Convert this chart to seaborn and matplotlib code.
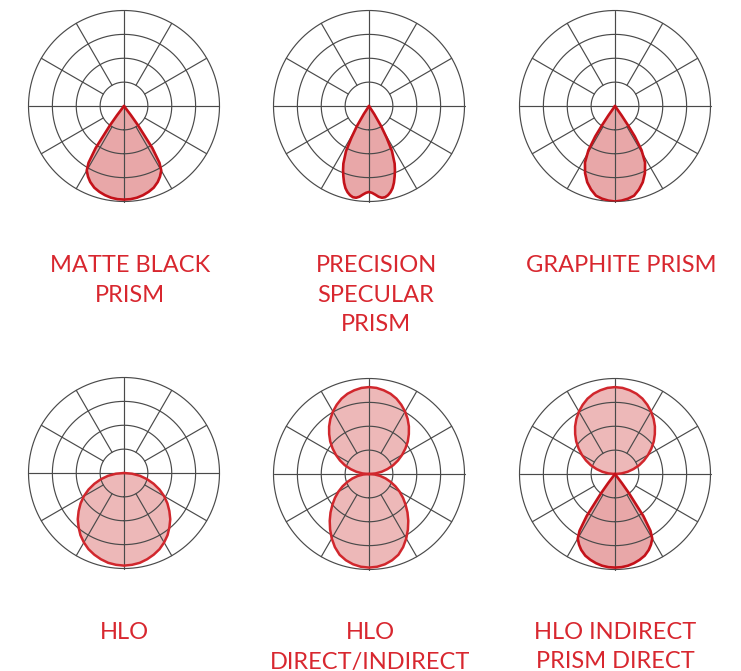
"""
Photometric polar distributions for six fixture optics, redrawn with seaborn.
"""

import numpy as np
import matplotlib
matplotlib.use('Agg')
import matplotlib.pyplot as plt
import seaborn as sns

# -------------------------------
# 1. Data (half profiles, degrees from nadir / zenith, relative intensity)
# -------------------------------
matte_angles = [0, 4, 8, 12, 16, 20, 24, 27, 30, 32, 34, 36, 37, 38]
matte_vals = [0.98, 0.978, 0.97, 0.955, 0.935, 0.91, 0.87, 0.83, 0.78, 0.70, 0.53, 0.25, 0.12, 0.0]

precision_angles = [0, 2, 4, 6, 8, 10, 12, 14, 16, 18, 20, 22, 24, 27, 29, 31, 33, 34]
precision_vals = [0.90, 0.91, 0.93, 0.955, 0.97, 0.97, 0.955, 0.93, 0.895, 0.845, 0.785, 0.725, 0.66,
                  0.53, 0.38, 0.25, 0.10, 0.0]

graphite_angles = [0, 4, 8, 12, 16, 20, 24, 28, 31, 33, 34, 35, 36]
graphite_vals = [1.0, 0.993, 0.98, 0.96, 0.91, 0.85, 0.77, 0.67, 0.54, 0.38, 0.24, 0.12, 0.0]

hlo_angles = [0, 5, 10, 15, 20, 25, 30, 35, 40, 45, 50, 55, 60, 65, 70, 75, 80, 85, 90]
hlo_vals = [0.97, 0.965, 0.955, 0.935, 0.91, 0.88, 0.84, 0.795, 0.74, 0.685, 0.62, 0.555,
            0.485, 0.41, 0.33, 0.25, 0.17, 0.085, 0.0]

hlo_down_angles = [0, 5, 10, 15, 20, 25, 30, 35, 40, 45, 50, 55, 60, 65, 70, 75, 80, 85, 90]
hlo_down_vals = [0.98, 0.975, 0.96, 0.935, 0.90, 0.845, 0.78, 0.71, 0.64, 0.57, 0.50, 0.435,
                 0.37, 0.305, 0.24, 0.18, 0.12, 0.06, 0.0]

hlo_up_angles = [0, 5, 10, 15, 20, 25, 30, 35, 40, 45, 50, 55, 60, 65, 70, 75, 80, 85, 90]
hlo_up_vals = [0.91, 0.905, 0.89, 0.87, 0.84, 0.80, 0.755, 0.705, 0.65, 0.59, 0.53, 0.465,
               0.40, 0.335, 0.27, 0.20, 0.135, 0.068, 0.0]

labels = [
    ['MATTE BLACK', 'PRISM'],
    ['PRECISION', 'SPECULAR', 'PRISM'],
    ['GRAPHITE PRISM'],
    ['HLO'],
    ['HLO', 'DIRECT/INDIRECT'],
    ['HLO INDIRECT', 'PRISM DIRECT'],
]

# each panel: list of (angles, values, direction) lobes
panels = [
    [(matte_angles, matte_vals, 'down')],
    [(precision_angles, precision_vals, 'down')],
    [(graphite_angles, graphite_vals, 'down')],
    [(hlo_angles, hlo_vals, 'down')],
    [(hlo_up_angles, hlo_up_vals, 'up'), (hlo_down_angles, hlo_down_vals, 'down')],
    [(hlo_up_angles, hlo_up_vals, 'up'), (matte_angles, matte_vals, 'down')],
]

# -------------------------------
# 2. Layout / style
# -------------------------------
W, H = 741, 671
R = 95.5
centers = [(124, 106), (369, 106), (615, 106), (124, 473), (369, 474), (615, 474)]
label_x = [130, 376, 621, 124, 370, 615]
label_base = [272, 272, 272, 639, 639, 639]
line_step = 29.5

RED_TEXT = '#d8272f'
GRID = '#4a4a4a'
prism_style = dict(fill='#e8a7a8', edge='#c4121a', lw=1.9)
hlo_style = dict(fill='#edb8b8', edge='#d1272d', lw=1.8)

sns.set_theme(style='white')
plt.rcParams['font.family'] = ['Lato', 'DejaVu Sans']

fig = plt.figure(figsize=(W / 100, H / 100), dpi=100)


def full_profile(angles, vals, direction):
    a = np.radians(np.array(angles, dtype=float))
    v = np.array(vals, dtype=float)
    theta = np.concatenate([-a[::-1], a[1:]])
    r = np.concatenate([v[::-1], v[1:]])
    if direction == 'up':
        theta = theta + np.pi
    return theta, r


def draw_grid(ax):
    circ = np.linspace(0, 2 * np.pi, 400)
    for rr in [0.25, 0.5, 0.75, 1.0]:
        ax.plot(circ, np.full_like(circ, rr), color=GRID, lw=0.85, zorder=2, clip_on=False)
    for deg in range(0, 360, 30):
        start = 0.0 if deg % 90 == 0 else 0.25
        t = np.radians(deg)
        ax.plot([t, t], [start, 1.0], color=GRID, lw=0.85, zorder=2, clip_on=False)


for i, (cx, cy) in enumerate(centers):
    rect = [(cx - R) / W, 1 - (cy + R) / H, 2 * R / W, 2 * R / H]
    ax = fig.add_axes(rect, projection='polar')
    ax.set_theta_zero_location('S')
    ax.set_theta_direction(-1)
    ax.set_ylim(0, 1)
    ax.grid(False)
    ax.set_xticks([])
    ax.set_yticks([])
    ax.spines['polar'].set_visible(False)
    ax.patch.set_alpha(0)

    draw_grid(ax)

    for angles, vals, direction in panels[i]:
        # the HLO lobes use the lighter red, prism optics the darker one
        st = hlo_style if (i >= 3 and (direction == 'up' or i in (3, 4))) else prism_style
        theta, r = full_profile(angles, vals, direction)
        ax.fill(theta, r, color=st['fill'], zorder=1, lw=0)
        sns.lineplot(x=theta, y=r, ax=ax, sort=False, estimator=None,
                     color=st['edge'], lw=st['lw'], zorder=3)
        ax.plot([theta[-1], theta[0]], [r[-1], r[0]], color=st['edge'], lw=st['lw'], zorder=3)

    ax.set_xlabel('')
    ax.set_ylabel('')

    for k, line in enumerate(labels[i]):
        y_px = label_base[i] + k * line_step
        fig.text(label_x[i] / W, 1 - y_px / H, line, ha='center', va='baseline',
                 fontsize=17, color=RED_TEXT)

fig.savefig('out.png', dpi=100)
